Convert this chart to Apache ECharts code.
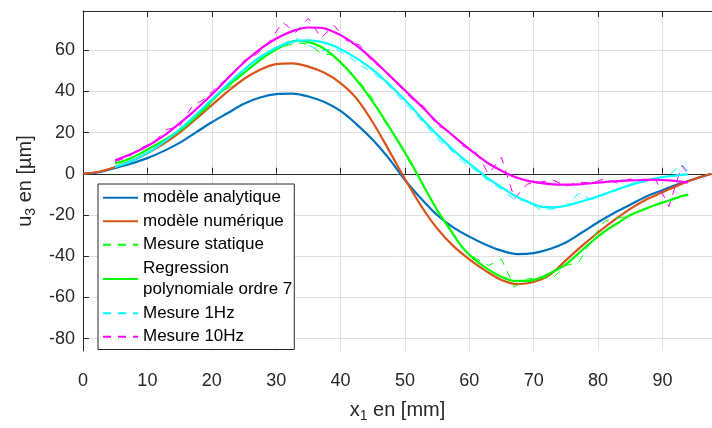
<!DOCTYPE html>
<html><head><meta charset="utf-8">
<script src="https://cdn.jsdelivr.net/npm/echarts@6/dist/echarts.min.js"></script>
<style>html,body{margin:0;padding:0;background:#fff}#c{width:712px;height:428px}</style>
</head><body><div id="c"></div>
<script>
// Modèles (x en mm)
const xModele = [0,2.5,5,7.5,10,12.5,15,17.5,20,22.5,25,27.5,30,32.5,35,37.5,40,42.5,45,47.5,50,52.5,55,57.5,60,62.5,65,67.5,70,72.5,75,77.5,80,82.5,85,87.5,90,92.5,95,97.6];
const analytique = [0,0.8,2.8,5,7.6,11,15,20,25,29.5,34,37,38.7,38.9,37.5,34.8,30.5,24,16.5,7.5,-3,-12,-20,-26,-30.5,-34.3,-37.3,-39,-38.5,-36.5,-33.3,-28.5,-23.5,-19,-15,-11,-8,-5,-2.5,0];
const numerique = [0,1,3.3,6.2,10,14.5,20,26.5,33.3,40,46,50.5,53.2,53.6,52,49,44,36.5,25,11.5,-2.5,-15.5,-26.5,-35,-41.5,-47,-51.5,-53.5,-52.5,-49,-42,-35,-28.5,-22.5,-17,-12.5,-9,-5.5,-2.5,0];
// Mesures
const xMesure = [5,7,9,11,13,15,17,19,21,23,25,27,29,31,33,35,37,39,41,43,45,47,49,51,53,55,57,59,61,63,65,67,69,71,73,75,77,79,81,83,85,87,89,91,93,94];
const mesStatique = [5.5,6.5,10.5,13,17.5,20,26,30.5,38.5,42.5,49,53.5,59.5,61.5,63.5,63,58.5,57.5,50,44.5,36.5,24.5,16,4,-6,-18.5,-26,-36.5,-41,-44.5,-41.5,-55,-51,-50.5,-50.5,-44.5,-43,-32,-23,-21.5,-20.5,-17,-15.5,-12.5,-11.5,-10.5];
const regStatique = [5,7,10,13.5,17,21,26,32,38.5,44,49,54,58.5,62,64.5,64,61.5,57,51,43.5,35,25.5,15.5,5,-6.5,-17.5,-27,-36,-42,-46.5,-50,-52,-52,-50.5,-47.5,-44,-38.5,-33,-28,-24,-20,-17.5,-15,-13,-10.8,-10.1];
const mes1Hz = [3,6,8,12.5,16,22,26.5,33.5,38.5,45.5,50,56,59,63,66,62.5,59.5,61,57.5,53,49,44.5,37.5,31,24.5,17,12,6,1.5,-3.5,-7.5,-12.5,-13,-17.5,-17,-15.5,-9.5,-12.5,-10,-8,-5,-3,-2.5,-0.5,4.5,1];
const reg1Hz = [3.5,5.5,8.5,12,16.5,21.5,27,33,39,45,50.5,55.5,59.5,62.5,64.3,64.8,64,62,58.8,55,50.5,45,39,32.5,25.5,19,13,7.5,2.5,-2.5,-6.5,-10.5,-13.5,-15.8,-16.3,-15.5,-13.8,-12,-9.8,-7.5,-5.5,-3.7,-2.2,-1.2,-0.5,-0.3];
const mes10Hz = [6,8,12.5,15.5,21.5,23,33,36.5,43,47.5,55,58,64.5,73.5,68.5,75.5,66,72,64.5,62.5,54,50.5,43,36.5,32.5,23.5,20.5,13.5,10.5,0,8,-12,-5,-4,-3,-6,-4,-4.5,-2.5,-4.5,-2.5,-4,-3,-16,4,0];
const reg10Hz = [6.5,9,11.8,15.3,19.5,24.5,29.7,35.5,41.5,48,54,59.3,63.7,67.2,69.7,71,70.8,68.8,65.5,61,55.5,49.5,43.5,37.5,31.4,25,19.8,14.5,9.5,5,1.5,-1.4,-3.3,-4.4,-5.1,-5.3,-5.1,-4.6,-4,-3.6,-3.2,-3,-2.9,-3.2,-3.9,-4.2];
// Graduations
const xTicks = [0,10,20,30,40,50,60,70,80,90];
const yTicks = [-80,-60,-40,-20,0,20,40,60];
const names = ['modèle analytique','modèle numérique','Mesure statique','Regression\npolynomiale ordre 7','Mesure 1Hz','Mesure 10Hz'];

const pair = (xs, ys) => xs.map((x, i) => [x, ys[i]]);
const FONT = 'Liberation Sans';
const AX = '#262626';
const chart = echarts.init(document.getElementById('c'), null, {renderer: 'canvas'});

function line(name, xs, ys, color, dashed, width, smooth) {
  return {
    type: 'line', name, data: pair(xs, ys), showSymbol: false, symbol: 'none',
    smooth: smooth ? 0.35 : false, animation: false,
    lineStyle: {color, width, type: dashed ? [8, 7] : 'solid'},
    itemStyle: {color}, emphasis: {disabled: true}
  };
}

chart.setOption({
  animation: false,
  backgroundColor: '#fff',
  grid: {left: 83, right: 0, top: 11, bottom: 76, containLabel: false},
  xAxis: [{
    type: 'value', min: 0, max: 97.7, position: 'bottom',
    axisLine: {show: true, lineStyle: {color: AX, width: 1}},
    axisTick: {show: true, inside: true, length: 6, customValues: xTicks, lineStyle: {color: AX}},
    axisLabel: {customValues: xTicks, fontSize: 18, fontFamily: FONT, color: AX, margin: 21},
    splitLine: {show: true, lineStyle: {color: '#e0e0e0', width: 1}},
    name: '{a|x}{s|1}{a| en [mm]}', nameLocation: 'middle', nameGap: 46,
    nameTextStyle: {rich: {
      a: {fontSize: 20, fontFamily: FONT, color: AX},
      s: {fontSize: 14, fontFamily: FONT, color: AX, padding: [12, 0, 0, 0]}
    }}
  }, {
    type: 'value', min: 0, max: 97.7, position: 'top',
    axisLine: {show: true, lineStyle: {color: AX, width: 1}},
    axisTick: {show: true, inside: true, length: 6, customValues: xTicks, lineStyle: {color: AX}},
    axisLabel: {show: false}, splitLine: {show: false}
  }],
  yAxis: [{
    type: 'value', min: -86, max: 79,
    axisLine: {show: true, lineStyle: {color: AX, width: 1}},
    axisTick: {show: true, inside: true, length: 6, customValues: yTicks, lineStyle: {color: AX}},
    axisLabel: {customValues: yTicks, fontSize: 18, fontFamily: FONT, color: AX, margin: 8},
    splitLine: {show: true, lineStyle: {color: '#e0e0e0', width: 1}},
    name: '{a|u}{s|3}{a| en [µm]}', nameLocation: 'middle', nameGap: 44, nameRotate: 90,
    nameTextStyle: {rich: {
      a: {fontSize: 20, fontFamily: FONT, color: AX},
      s: {fontSize: 14, fontFamily: FONT, color: AX, padding: [12, 0, 0, 0]}
    }}
  }],
  legend: {
    orient: 'vertical', left: 98, top: 184,
    itemWidth: 35, itemHeight: 2, itemGap: 2,
    padding: [3, 2, 2, 4],
    itemStyle: {opacity: 0},
    backgroundColor: '#fff', borderColor: AX, borderWidth: 1, borderRadius: 0,
    textStyle: {fontSize: 17, fontFamily: FONT, color: '#000', lineHeight: 21.5},
    data: names, selectedMode: false
  },
  series: [
    line(names[0], xModele, analytique, '#0072BD', false, 2.2, true),
    line(names[1], xModele, numerique, '#D95319', false, 2.2, true),
    line(names[2], xMesure, mesStatique, '#00FF00', true, 1, false),
    line(names[3], xMesure, regStatique, '#00FF00', false, 2.2, true),
    line(names[4], xMesure, mes1Hz, '#00FFFF', true, 1, false),
    line(names[5], xMesure, mes10Hz, '#FF00FF', true, 1, false),
    line('reg1Hz', xMesure, reg1Hz, '#00FFFF', false, 2.2, true),
    line('reg10Hz', xMesure, reg10Hz, '#FF00FF', false, 2.2, true)
  ]
});
</script></body></html>
